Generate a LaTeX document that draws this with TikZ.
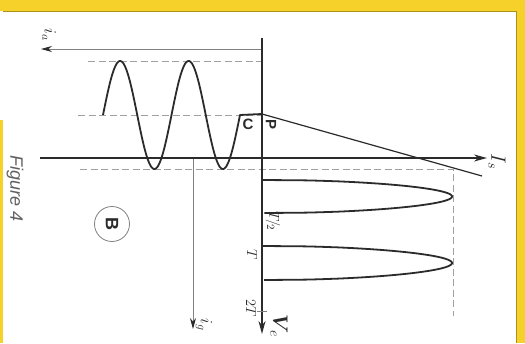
\documentclass[tikz,border=0pt]{standalone}
\usepackage{amsmath}
\usepackage{fontspec}
\setmainfont{Liberation Sans}
\usetikzlibrary{arrows.meta}
\definecolor{ink}{HTML}{2B2B2B}
\definecolor{yel}{HTML}{F6D12A}
\begin{document}
\begin{tikzpicture}[x=1pt,y=-1pt,
  curve/.style={line width=1.8pt,draw=ink,line join=round},
  axis/.style={line width=1.4pt,draw=ink},
  thinline/.style={line width=0.8pt,draw=ink!60},
  dashline/.style={line width=0.7pt,draw=ink!45,dash pattern=on 7pt off 3.5pt},
  lbl/.style={rotate=-90,inner sep=0pt,text=ink},
  tip/.style={-{Stealth[length=11pt,width=6pt,color=ink]}},
  bigtip/.style={-{Stealth[length=13pt,width=7pt,color=ink]}}]
\useasboundingbox (0,0) rectangle (525,343);
\fill[white] (0,0) rectangle (525,343);
\fill[yel] (0,0) rectangle (525,11);
\fill[yel] (517,0) rectangle (525,343);
\fill[yel] (0,120) rectangle (3,343);
\draw[yel!70!black,line width=0.6pt] (3,11.3) -- (516.7,11.3) -- (516.7,343);

% coordinates
\coordinate (VaTop) at (262,38);
\coordinate (VaEnd) at (262,334);
\coordinate (HaStart) at (40,158);
\coordinate (HaEnd) at (487,158);
\coordinate (IaStart) at (262,49);
\coordinate (IaEnd) at (41,49);
\coordinate (IgStart) at (193,158);
\coordinate (IgEnd) at (193,329);
\coordinate (P) at (262,114);
\coordinate (LLend) at (482,176);
\coordinate (D1a) at (88,61);   \coordinate (D1b) at (262,61);
\coordinate (D2a) at (78,115);  \coordinate (D2b) at (262,115);
\coordinate (D3a) at (80,169);  \coordinate (D3b) at (453,169);
\coordinate (D3c) at (453,316);
\coordinate (TkA) at (257,311); \coordinate (TkB) at (267,311);

% dashed guides
\draw[dashline] (D1a) -- (D1b);
\draw[dashline] (D2a) -- (D2b);
\draw[dashline] (D3a) -- (D3b) -- (D3c);

% thin arrows
\draw[thinline,tip] (IaStart) -- (IaEnd);
\draw[thinline,tip] (IgStart) -- (IgEnd);

% axes
\draw[axis,bigtip] (VaTop) -- (VaEnd);
\draw[axis,bigtip] (HaStart) -- (HaEnd);
\draw[thinline] (TkA) -- (TkB);

% load line
\draw[line width=1.2pt,draw=ink] (P) -- (LLend);

% sine wave with plateau
\draw[curve] plot[domain=103:240,samples=160,smooth] (\x,{115-54*sin(5.2555*(\x-103))}) -- (P);

% rectified lobes
\draw[curve] plot[domain=180:213,samples=100,smooth] ({262+190*pow(abs(sin(5.4545*(\x-180))),0.45)},\x);
\draw[curve] plot[domain=246:280,samples=100,smooth] ({262+190*pow(abs(sin(5.2941*(\x-246))),0.45)},\x);

% labels
\node[lbl,font=\fontsize{18}{18}\selectfont] (la) at (49,35) {$i_a$};
\node[lbl,font=\fontsize{18}{18}\selectfont] (lg) at (204,325) {$i_g$};
\node[lbl,font=\fontsize{22}{22}\selectfont] (ls) at (497,162) {$I_s$};
\node[lbl,font=\fontsize{20}{20}\selectfont] (lv) at (279,326) {$\boldsymbol{V}_{\!e}$};
\node[inner sep=0pt,text=ink,font=\fontsize{15}{15}\selectfont\bfseries] (lc) at (248,124) {C};
\node[lbl,font=\fontsize{15}{15}\selectfont\bfseries] (lp) at (271,124) {P};
\node[lbl,font=\fontsize{15}{15}\selectfont] (lt2) at (273,221) {$T\!/\!_2$};
\node[lbl,font=\fontsize{15}{15}\selectfont] (lt) at (252,255) {$T$};
\node[lbl,font=\fontsize{15}{15}\selectfont] (l2t) at (251,308) {$2T$};
\node[draw=ink!60,line width=0.8pt,circle,minimum size=35pt,inner sep=0pt] (cb) at (112,224) {};
\node[lbl,font=\fontsize{18}{18}\selectfont\bfseries] (lb) at (cb) {B};
\node[lbl,text=ink!75,font=\fontsize{18}{18}\selectfont\itshape] (fig) at (15,189) {Figure 4};
\end{tikzpicture}
\end{document}
